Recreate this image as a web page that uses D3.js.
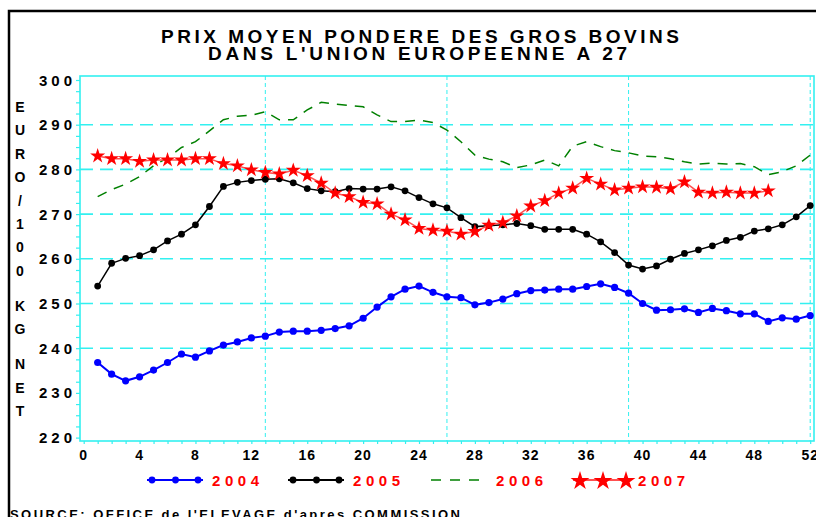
<!DOCTYPE html>
<html>
<head>
<meta charset="utf-8">
<script src="https://cdn.jsdelivr.net/npm/d3@7/dist/d3.min.js"></script>
<style>
  html, body { margin: 0; padding: 0; background: #fff; }
  svg { display: block; font-family: "Liberation Sans", Arial, sans-serif; }
</style>
</head>
<body>
<svg id="chart" width="816" height="517"></svg>
<script>
// weeks 1..52
const weeks = d3.range(1, 53);

const s2004 = [236.8, 234.2, 232.7, 233.6, 235.1, 236.8, 238.7, 238.0, 239.4, 240.7,
  241.4, 242.3, 242.7, 243.6, 243.8, 243.8, 244.0, 244.4, 245.0, 246.7,
  249.2, 251.5, 253.2, 253.9, 252.5, 251.5, 251.3, 249.7, 250.2, 251.0,
  252.2, 252.9, 253.0, 253.2, 253.2, 253.8, 254.4, 253.6, 252.3, 250.0,
  248.5, 248.6, 248.8, 248.0, 248.9, 248.4, 247.7, 247.7, 246.0, 246.8,
  246.5, 247.3];

const s2005 = [253.9, 259.0, 260.1, 260.7, 262.0, 264.0, 265.5, 267.6, 271.7, 276.2,
  277.1, 277.5, 277.8, 277.9, 277.0, 275.7, 275.2, 275.0, 275.7, 275.6,
  275.6, 276.1, 275.2, 273.7, 272.3, 271.4, 269.2, 267.2, 267.4, 267.6,
  267.9, 267.4, 266.6, 266.6, 266.6, 265.5, 263.8, 261.4, 258.6, 257.7,
  258.4, 259.9, 261.2, 262.0, 262.9, 264.1, 264.8, 266.2, 266.7, 267.6,
  269.4, 271.9];

const s2006 = [273.9, 275.5, 276.7, 278.4, 280.8, 282.6, 284.9, 286.2, 288.6, 291.1,
  291.9, 292.1, 292.9, 291.1, 291.1, 293.3, 295.0, 294.6, 294.3, 294.0,
  292.2, 290.7, 290.7, 291.0, 290.5, 288.8, 286.2, 283.2, 282.3, 281.7,
  280.4, 281.0, 282.1, 280.8, 285.2, 286.2, 285.1, 284.2, 283.7, 283.0,
  282.8, 282.4, 281.7, 281.2, 281.4, 281.2, 281.3, 280.6, 278.8, 279.5,
  280.8, 283.2];

// 2007 only goes to week 49
const s2007 = [283.0, 282.4, 282.4, 281.8, 282.1, 282.1, 282.1, 282.4, 282.4, 281.3,
  280.8, 279.9, 279.3, 279.0, 279.8, 278.6, 276.9, 274.7, 273.9, 272.6,
  272.3, 270.0, 268.7, 266.8, 266.4, 266.2, 265.5, 266.1, 267.5, 268.1,
  269.6, 271.8, 273.0, 274.7, 275.8, 278.0, 276.7, 275.4, 275.8, 276.1,
  276.0, 275.7, 277.2, 274.9, 274.7, 274.9, 274.7, 274.7, 275.2];

const yTicks = [220, 230, 240, 250, 260, 270, 280, 290, 300];
const yGrid = [240, 250, 260, 270, 280, 290];
const xTicks = d3.range(0, 53, 4);
const xGrid = [13, 26, 39, 52];

const seriesNames = ["2004", "2005", "2006", "2007"];
const titleLines = ["PRIX MOYEN PONDERE DES GROS BOVINS", "DANS L'UNION EUROPEENNE A 27"];
const yLabel = "EURO/100 KG NET";
const sourceText = "SOURCE:  OFFICE de l'ELEVAGE d'apres COMMISSION";

const CYAN = '#33f0f0';

const svg = d3.select('#chart');

// frame left/top
const F = { left: 80, top: 76, right: 814, bottom: 441 };

const x = d3.scaleLinear().domain([0, 52]).range([83.7, 810.2]);
const y = d3.scaleLinear().domain([220, 300]).range([437.6, 80]);

// outer black border
svg.append('path')
  .attr('d', `M9,517 V11 H816`)
  .attr('fill', 'none').attr('stroke', '#000').attr('stroke-width', 2.5);

// title
svg.selectAll('.title')
  .data(titleLines)
  .join('text')
  .attr('class', 'title')
  .attr('x', (d, i) => i === 0 ? 161 : 208)
  .attr('y', (d, i) => i === 0 ? 43 : 60)
  .attr('textLength', (d, i) => i === 0 ? 518 : 419)
  .attr('lengthAdjust', 'spacing')
  .attr('font-size', 19).attr('font-weight', 'bold')
  .text(d => d);

// grid
svg.append('g').selectAll('line')
  .data(yGrid)
  .join('line')
  .attr('x1', F.left).attr('x2', F.right)
  .attr('y1', d => y(d)).attr('y2', d => y(d))
  .attr('stroke', CYAN).attr('stroke-width', 1.6)
  .attr('stroke-dasharray', '13,7');

svg.append('g').selectAll('line')
  .data(xGrid)
  .join('line')
  .attr('x1', d => x(d)).attr('x2', d => x(d))
  .attr('y1', F.top).attr('y2', F.bottom)
  .attr('stroke', CYAN).attr('stroke-width', 1)
  .attr('stroke-dasharray', '4,3');

// plot frame
svg.append('rect')
  .attr('x', F.left).attr('y', F.top)
  .attr('width', F.right - F.left).attr('height', F.bottom - F.top)
  .attr('fill', 'none').attr('stroke', CYAN).attr('stroke-width', 1.6);

// y axis
const gY = svg.append('g').attr('transform', `translate(${F.left},0)`)
  .call(d3.axisLeft(y).tickValues(d3.range(220, 300.1, 2.5)).tickSize(4).tickFormat(''));
gY.select('.domain').remove();
gY.selectAll('line').attr('stroke', CYAN).attr('stroke-width', 1.2);

svg.append('g').selectAll('text')
  .data(yTicks)
  .join('text')
  .attr('x', 76).attr('y', d => y(d) + 5.5)
  .attr('text-anchor', 'end')
  .attr('letter-spacing', 4)
  .attr('font-size', 15).attr('font-weight', 'bold')
  .text(d => d);

// x axis
const gX = svg.append('g').attr('transform', `translate(0,${F.bottom})`)
  .call(d3.axisBottom(x).tickValues(d3.range(0, 53)).tickSize(3).tickFormat(''));
gX.select('.domain').remove();
gX.selectAll('line').attr('stroke', CYAN).attr('stroke-width', 1.2);

svg.append('g').selectAll('text')
  .data(xTicks)
  .join('text')
  .attr('x', d => x(d)).attr('y', 460)
  .attr('text-anchor', 'middle')
  .attr('letter-spacing', 1)
  .attr('font-size', 14).attr('font-weight', 'bold')
  .text(d => d);

// y axis title, stacked letters
let cy = 107;
const yChars = [];
for (const ch of yLabel) {
  if (ch === ' ') { cy += 11.7; continue; }
  yChars.push({ ch, y: cy });
  cy += 23.4;
}
svg.append('g').selectAll('text')
  .data(yChars)
  .join('text')
  .attr('x', 20).attr('y', d => d.y + 5)
  .attr('text-anchor', 'middle')
  .attr('font-size', 14).attr('font-weight', 'bold')
  .text(d => d.ch);

// series
const line = d3.line().x((d, i) => x(i + 1)).y(d => y(d));
const star = d3.symbol().type(d3.symbolStar).size(70);

function dots(g, data, color, r) {
  g.selectAll('circle')
    .data(data)
    .join('circle')
    .attr('cx', (d, i) => x(i + 1)).attr('cy', d => y(d))
    .attr('r', r).attr('fill', color);
}

// 2006
svg.append('path')
  .attr('d', line(s2006))
  .attr('fill', 'none').attr('stroke', '#008000').attr('stroke-width', 1.5)
  .attr('stroke-dasharray', '10,8');

// 2005
svg.append('path')
  .attr('d', line(s2005))
  .attr('fill', 'none').attr('stroke', '#000').attr('stroke-width', 1.5);
dots(svg.append('g'), s2005, '#000', 3.4);

// 2004
svg.append('path')
  .attr('d', line(s2004))
  .attr('fill', 'none').attr('stroke', '#0000ff').attr('stroke-width', 2);
dots(svg.append('g'), s2004, '#0000ff', 3.6);

// 2007
svg.append('path')
  .attr('d', line(s2007))
  .attr('fill', 'none').attr('stroke', '#ff5050').attr('stroke-width', 1.5);
svg.append('g').selectAll('path')
  .data(s2007)
  .join('path')
  .attr('d', star)
  .attr('transform', (d, i) => `translate(${x(i + 1)},${y(d)})`)
  .attr('fill', '#ff0000');

// legend
const legend = [
  { name: seriesNames[0], x0: 147, color: '#0000ff', kind: 'dot' },
  { name: seriesNames[1], x0: 288, color: '#000', kind: 'dot' },
  { name: seriesNames[2], x0: 431, color: '#008000', kind: 'dash' },
  { name: seriesNames[3], x0: 573, color: '#ff0000', kind: 'star' }
];
const LY = 480;
const lg = svg.append('g').selectAll('g')
  .data(legend)
  .join('g')
  .attr('transform', d => `translate(${d.x0},${LY})`);

lg.append('line')
  .attr('x1', 0).attr('x2', d => d.kind === 'star' ? 58 : 56)
  .attr('y1', 0).attr('y2', 0)
  .attr('stroke', d => d.kind === 'star' ? '#ff5050' : d.color)
  .attr('stroke-width', d => d.kind === 'dash' ? 1.5 : 2)
  .attr('stroke-dasharray', d => d.kind === 'dash' ? '10,9' : null);

lg.filter(d => d.kind === 'dot').selectAll('circle')
  .data(d => [5, 28.5, 51].map(v => ({ v, color: d.color })))
  .join('circle')
  .attr('cx', d => d.v).attr('cy', 0).attr('r', 3.4)
  .attr('fill', d => d.color);

lg.filter(d => d.kind === 'star').selectAll('path')
  .data([7, 30, 53])
  .join('path')
  .attr('d', d3.symbol().type(d3.symbolStar).size(110))
  .attr('transform', d => `translate(${d},1)`)
  .attr('fill', '#ff0000');

lg.append('text')
  .attr('x', d => d.kind === 'star' ? 65 : 65)
  .attr('y', 6)
  .attr('textLength', 47).attr('lengthAdjust', 'spacing')
  .attr('font-size', 15).attr('font-weight', 'bold')
  .attr('fill', '#ff0000')
  .text(d => d.name);

// source line, cut by the bottom edge
svg.append('text')
  .attr('x', 10).attr('y', 519)
  .attr('textLength', 450).attr('lengthAdjust', 'spacing')
  .attr('font-size', 13).attr('font-weight', 'bold')
  .text(sourceText);
</script>
</body>
</html>
